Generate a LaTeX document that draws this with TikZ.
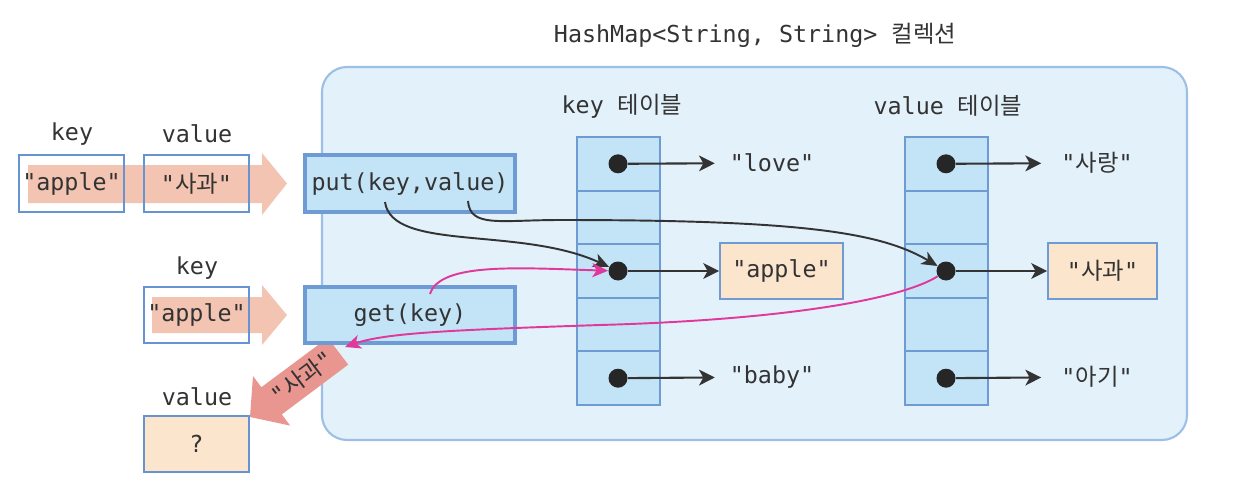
\documentclass[tikz,border=0pt]{standalone}
\usepackage{fontspec}
\newfontfamily\mono{DejaVu Sans Mono}
\newfontfamily\ko{Noto Sans CJK KR}
\usetikzlibrary{arrows.meta}
\definecolor{contfill}{HTML}{E3F1FB}
\definecolor{contdraw}{HTML}{9DBFE6}
\definecolor{cellfill}{HTML}{C3E3F7}
\definecolor{celldraw}{HTML}{6E9BD3}
\definecolor{inbord}{HTML}{6693D2}
\definecolor{peach}{HTML}{FBE5CC}
\definecolor{salmon}{HTML}{F2C4B1}
\definecolor{downarr}{HTML}{E8968F}
\definecolor{magentaln}{HTML}{E0399B}
\definecolor{txt}{HTML}{333333}
\begin{document}
\begin{tikzpicture}[x=0.02cm,y=-0.02cm,
  every node/.style={font=\mono\fontsize{13.3}{15}\selectfont, text=txt},
  lbl/.style={inner sep=1pt},
  inbox/.style={draw=inbord, line width=1.3pt, minimum width=2.1cm, minimum height=1.13cm, inner sep=0pt},
  opbox/.style={draw=celldraw, fill=cellfill, line width=2.2pt, minimum width=4.2cm, minimum height=1.13cm, inner sep=0pt},
  cell/.style={draw=celldraw, fill=cellfill, line width=1.1pt, minimum width=1.66cm, minimum height=1.072cm, inner sep=0pt},
  dot/.style={circle, fill=black!85, minimum size=0.38cm, inner sep=0pt},
  valbox/.style={draw=celldraw, fill=peach, line width=1.1pt, minimum height=1.12cm, inner sep=0pt},
  ptr/.style={draw=black!80, line width=1.2pt, -{Stealth[length=9pt,width=9pt,inset=2.5pt]}},
  blk/.style={draw=black!80, line width=1.1pt, -{Stealth[length=9pt,width=8pt,inset=2.5pt]}},
  mag/.style={draw=magentaln, line width=1.1pt, -{Stealth[length=9pt,width=8pt,inset=2.5pt]}}
]
\useasboundingbox (0,0) rectangle (1254,494);
% title
\node (title) at (755,35) {HashMap<String, String> {\ko 컬렉션}};
% container
\draw[draw=contdraw, fill=contfill, line width=1.2pt, rounded corners=0.5cm] (322,67) rectangle (1187,440);
% salmon input arrows
\fill[salmon] (28,165) -- (262,165) -- (262,153) -- (287,183.5) -- (262,215) -- (262,203) -- (28,203) -- cycle;
\fill[salmon] (152,297) -- (262,297) -- (262,285) -- (287,315) -- (262,345) -- (262,333) -- (152,333) -- cycle;
% labels
\node[lbl] (lk1) at (72,134) {key};
\node[lbl] (lv1) at (197,134) {value};
\node[lbl] (lk2) at (197,268) {key};
\node[lbl] (lv2) at (197,397) {value};
% input boxes
\node[inbox] (k1) at (71.5,183.5) {"apple"};
\node[inbox] (v1) at (196.5,183.5) {"{\ko 사과}"};
\node[inbox] (k2) at (196.5,315) {"apple"};
\node[inbox, fill=peach] (q) at (196.5,444) {?};
% result arrow
\fill[downarr] (250,417) -- (290.2,425.6) -- (281.8,414.4) -- (348.2,364.6) -- (327.8,337.8) -- (261.4,387.2) -- (253,376) -- cycle;
\node[rotate=36.87, inner sep=0pt] (res) at (302,377) {"{\ko 사과}"};
% put / get
\node[opbox] (put) at (410,183.5) {put(key,value)};
\node[opbox] (get) at (410,315) {get(key)};
% table labels
\node[lbl] (ktl) at (622,106) {key {\ko 테이블}};
\node[lbl] (vtl) at (948,106) {value {\ko 테이블}};
% tables
\foreach \i/\y in {1/163.8,2/217.4,3/271,4/324.6,5/378.2} {
  \node[cell] (kc\i) at (618.5,\y) {};
  \node[cell] (vc\i) at (946.5,\y) {};
}
\node[dot] (kd1) at (618,163.8) {};
\node[dot] (kd2) at (618,271) {};
\node[dot] (kd3) at (618,378.2) {};
\node[dot] (vd1) at (946,163.8) {};
\node[dot] (vd2) at (946,271) {};
\node[dot] (vd3) at (946,378.2) {};
% targets
\node (kt1) at (772,163) {"love"};
\node[valbox, minimum width=2.46cm] (kt2) at (781.5,271) {"apple"};
\node (kt3) at (772,377) {"baby"};
\node (vt1) at (1097,163) {"{\ko 사랑}"};
\node[valbox, minimum width=2.18cm] (vt2) at (1102.5,271) {"{\ko 사과}"};
\node (vt3) at (1097,377) {"{\ko 아기}"};
\draw[ptr, shorten >=5pt] (kd1) -- (kt1);
\draw[ptr] (kd2) -- (kt2);
\draw[ptr, shorten >=5pt] (kd3) -- (kt3);
\draw[ptr, shorten >=8pt] (vd1) -- (vt1);
\draw[ptr] (vd2) -- (vt2);
\draw[ptr, shorten >=8pt] (vd3) -- (vt3);
% put/get connectors
\coordinate (pk) at (385,202);
\coordinate (pv) at (468,201);
\coordinate (gk) at (430,294);
\coordinate (gin) at (345,347);
\draw[blk] (pk) .. controls (392,252) and (520,226) .. (kd2);
\draw[blk] (pv) .. controls (470,228) and (500,220) .. (560,220) .. controls (800,220) and (880,232) .. (vd2);
\draw[mag] (gk) .. controls (440,262) and (520,268) .. (kd2);
\draw[mag] (vd2) .. controls (900,300) and (780,320) .. (600,325) .. controls (450,330) and (385,333) .. (gin);
\end{tikzpicture}
\end{document}
